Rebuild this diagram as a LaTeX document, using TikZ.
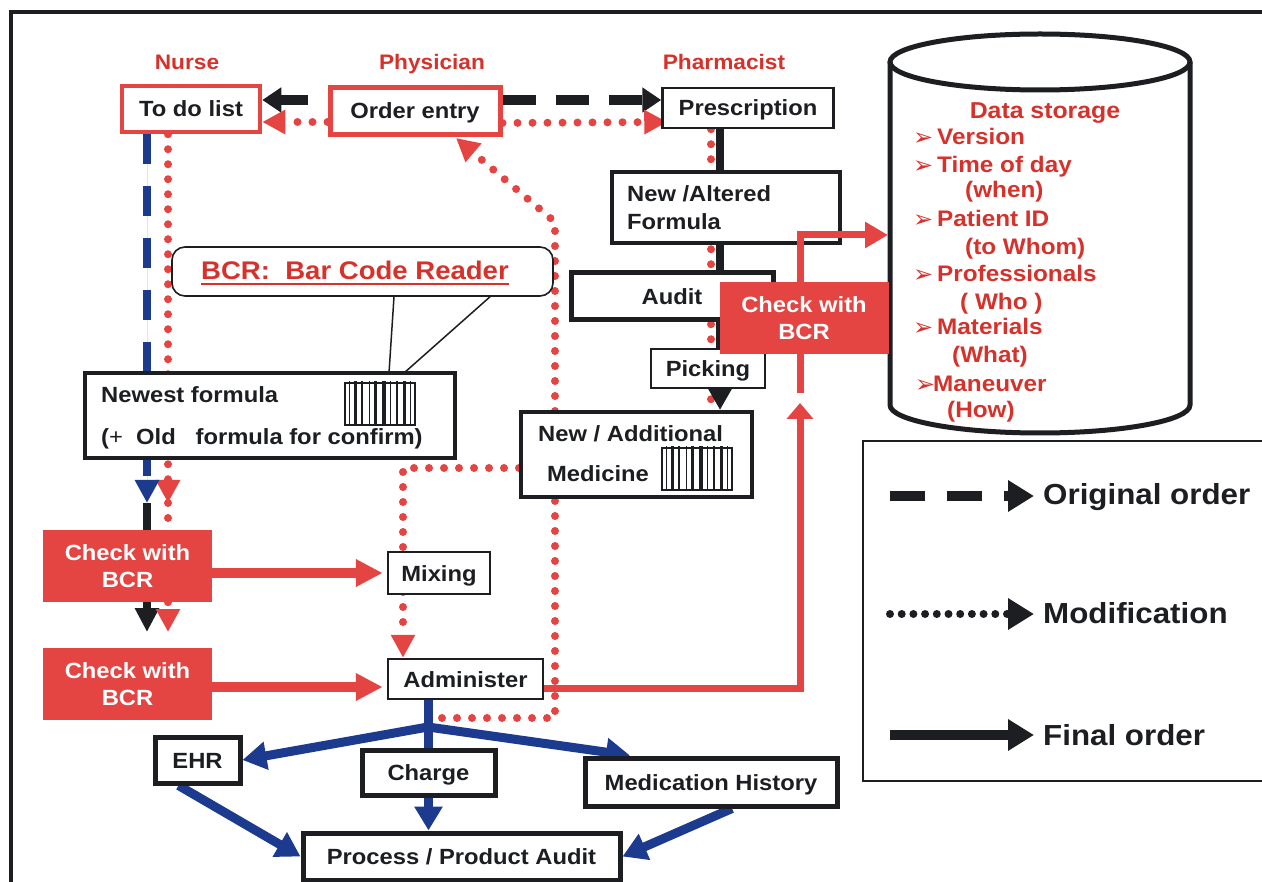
\documentclass[tikz,border=0pt]{standalone}
\usepackage{fontspec}
\setmainfont{Liberation Sans}[FakeStretch=1.08]
\newfontfamily\dingfont{DejaVu Sans}
\usetikzlibrary{arrows.meta}

\definecolor{cred}{RGB}{228,68,66}
\definecolor{tred}{RGB}{214,50,44}
\definecolor{cblue}{RGB}{28,58,142}
\definecolor{cblack}{RGB}{28,30,34}

\pgfdeclarelayer{paper}
\pgfdeclarelayer{connectors}
\pgfsetlayers{paper,connectors,main}

\newcommand\dsarrow{\makebox[24pt][l]{\dingfont\fontsize{24}{24}\selectfont\raisebox{-1pt}{➢}}}
\newcommand\dsarrowtight{\makebox[18pt][l]{\dingfont\fontsize{24}{24}\selectfont\raisebox{-1pt}{➢}}}

\tikzset{
  barcode/.pic={
    \draw[cblack, line width=1.5pt, fill=white] (0,0) rectangle (70,42);
    \foreach \bx/\bw in {4/1.2, 9/3, 16/1.5, 24/1.2, 29/3, 37/3.5, 45/1.2, 51/2, 58/3, 65/1.2}
      {\fill[cblack] (\bx,-2) rectangle ++(\bw,45);}
  }
}

\begin{document}
\begin{tikzpicture}[x=1pt,y=-1pt,
  every node/.style={font=\fontsize{22}{26}\selectfont\bfseries, text=cblack, inner sep=0pt},
  box/.style={draw=cblack, fill=white, line width=2.5pt, text height=16pt, text depth=0pt},
  heavybox/.style={box, line width=5pt},
  redframe/.style={draw=cred, fill=white, line width=4.5pt, text height=16pt, text depth=0pt},
  bcrbox/.style={fill=cred, text=white, align=center, minimum width=169pt, minimum height=72pt,
                 font=\fontsize{22}{27}\selectfont\bfseries},
  role/.style={text=tred, font=\fontsize{21}{24}\selectfont\bfseries, anchor=base},
  txt/.style={anchor=base west},
  dsitem/.style={anchor=base west, text=tred, font=\fontsize{22.5}{26}\selectfont\bfseries},
  legtxt/.style={anchor=base west, font=\fontsize{29}{32}\selectfont\bfseries},
  modif/.style={draw=cred, line width=8pt, line cap=round, dash pattern=on 0pt off 15pt},
  modtip/.style={-{Triangle[length=23pt,width=23pt]}},
  original/.style={draw=cblack, line width=10pt, dash pattern=on 33pt off 20pt},
  origtip/.style={-{Triangle[length=19pt,width=24pt]}},
  bluedash/.style={draw=cblue, line width=8pt, dash pattern=on 30pt off 22pt},
  finalflow/.style={draw=cblue, line width=9pt, -{Triangle[length=24pt,width=27pt]}},
  bcrflow/.style={draw=cred, line width=10pt, -{Triangle[length=27pt,width=26pt]}},
  storeflow/.style={draw=cred, line width=7pt},
]
\useasboundingbox (0,0) rectangle (1262,882);
\begin{pgfonlayer}{paper}
  \fill[white] (0,0) rectangle (1262,882);
\end{pgfonlayer}

% outer frame
\draw[cblack, line width=4pt] (11,882) -- (11,12) -- (1275,12);

% role headings
\node[role] (nurse) at (187,70) {Nurse};
\node[role] (physician) at (432,70) {Physician};
\node[role] (pharmacist) at (724,70) {Pharmacist};

% data storage cylinder
\fill[white] (890,62) -- (890,405) arc[start angle=180,end angle=360,x radius=150pt,y radius=28pt] -- (1190,62) -- cycle;
\draw[cblack, line width=5pt] (890,62) -- (890,405) arc[start angle=180,end angle=360,x radius=150pt,y radius=28pt] -- (1190,62);
\draw[cblack, line width=5pt] (1040,62) ellipse [x radius=150pt, y radius=28pt];
\coordinate (dsin) at (888,235);
\node[anchor=base, text=tred, font=\fontsize{23}{26}\selectfont\bfseries] (dstitle) at (1045,119) {Data storage};
\foreach \n/\xx/\yy/\tt in {
   1/913/145/{\dsarrow Version},
   2/913/173/{\dsarrow Time of day},
   3/965/198/{(when)},
   4/913/227/{\dsarrow Patient ID},
   5/965/255/{(to Whom)},
   6/913/282/{\dsarrow Professionals},
   7/960/310/{( Who )},
   8/913/335/{\dsarrow Materials},
   9/952/363/{(What)},
  10/915/392/{\dsarrowtight Maneuver},
  11/947/418/{(How)}}
  \node[dsitem] (ds\n) at (\xx,\yy) {\tt};

% top row
\node[redframe, minimum width=138pt, minimum height=46pt] (todo) at (191,109) {To do list};
\node[redframe, line width=5pt, minimum width=170pt, minimum height=47pt] (order) at (415,111) {Order entry};
\node[box, minimum width=171pt, minimum height=40pt] (presc) at (748,108) {Prescription};

% pharmacy column
\node[box, line width=4pt, minimum width=228pt, minimum height=71pt] (altered) at (726,207.5) {};
\node[txt] (alt1) at (627,202) {New /Altered};
\node[txt] (alt2) at (627,230) {Formula};
\node[heavybox, minimum width=202pt, minimum height=47pt] (audit) at (672,296.5) {Audit};
\node[box, minimum width=114pt, minimum height=39pt] (picking) at (708,368.5) {Picking};
\node[bcrbox] (checkR) at (804,318) {Check with\\BCR};
\node[box, line width=4pt, minimum width=231pt, minimum height=85pt] (newadd) at (636.5,454.5) {};
\node[txt] (na1) at (538,442) {New / Additional};
\node[txt] (na2) at (547,482) {Medicine};
\pic at (662,448) {barcode};

% bar code reader note
\node[draw=cblack, fill=white, line width=1.6pt, rounded corners=13pt,
      minimum width=381pt, minimum height=49pt] (callout) at (362.5,271.5) {};
\node[anchor=base, text=tred, font=\fontsize{25.5}{28}\selectfont\bfseries] (calltext) at (355,280) {BCR:\ \ Bar Code Reader};
\draw[tred, line width=2pt] ([yshift=-4pt]calltext.base west) -- ([yshift=-4pt]calltext.base east);

% nurse column
\node[box, line width=4pt, minimum width=370pt, minimum height=85pt] (newest) at (270,415.5) {};
\node[txt] (nf1) at (101,403) {Newest formula};
\node[txt] (nf2) at (101,445) {({\mdseries +}\ \ Old\ \ \ formula for confirm)};
\pic at (345,383) {barcode};
\draw[cblack, line width=1.5pt] (callout.south -| 394,0) -- (389,373);
\draw[cblack, line width=1.5pt] (callout.south -| 490,0) -- (404,373);

\node[bcrbox] (check1) at (127.5,566) {Check with\\BCR};
\node[bcrbox] (check2) at (127.5,684) {Check with\\BCR};
\node[box, minimum width=102pt, minimum height=42pt] (mixing) at (439,573) {Mixing};
\node[box, minimum width=155pt, minimum height=40pt] (admin) at (465.5,679) {Administer};

% records
\node[heavybox, minimum width=85pt, minimum height=46pt] (ehr) at (197.5,760) {EHR};
\node[heavybox, minimum width=133pt, minimum height=45pt] (charge) at (428.5,772.5) {Charge};
\node[heavybox, minimum width=252pt, minimum height=48pt] (medhist) at (711,782) {Medication History};
\node[heavybox, minimum width=317pt, minimum height=47pt] (process) at (461.5,856.5) {Process / Product Audit};

% legend
\node[draw=cblack, line width=2pt, minimum width=420pt, minimum height=340pt, anchor=north west] (legend) at (862,440) {};
\coordinate (lo1) at (890,496);  \coordinate (lo2) at (1034,496);
\coordinate (lm1) at (890,614);  \coordinate (lm2) at (1034,614);
\coordinate (lf1) at (890,735);  \coordinate (lf2) at (1034,735);
\draw[cblack, line width=10pt, dash pattern=on 35pt off 22pt, -{Triangle[length=26pt,width=30pt]}] (lo1) -- (lo2);
\draw[cblack, line width=8pt, line cap=round, dash pattern=on 0pt off 11.7pt, -{Triangle[length=26pt,width=30pt]}] (lm1) -- (lm2);
\draw[cblack, line width=10pt, -{Triangle[length=26pt,width=30pt]}] (lf1) -- (lf2);
\node[legtxt] (lt1) at (1043,505) {Original order};
\node[legtxt] (lt2) at (1043,623) {Modification};
\node[legtxt] (lt3) at (1043,745) {Final order};

% store the bar code check of the pharmacist
\coordinate (sturn) at (800,235);
\draw[storeflow, -{Triangle[length=23pt,width=25pt]}] (checkR.north -| sturn) -- (sturn) -- (dsin);

\begin{pgfonlayer}{connectors}
  % original order
  \draw[original, origtip] ([yshift=11pt]order.east) -- ([yshift=8pt]presc.west);
  \draw[original, origtip, dash phase=33pt] ([yshift=11pt]order.west) -- ([yshift=9pt]todo.east);
  % modification of the order
  \draw[modif, modtip] ([yshift=-12pt]order.east) -- ([yshift=-14pt,xshift=6pt]presc.west);
  \draw[modif, modtip] ([yshift=-11pt]order.west) -- ([yshift=-13pt]todo.east);
  % pharmacist chain
  \draw[modif] (presc.south -| 711,0) -- (newadd.north -| 711,0);
  \draw[cblack, line width=8pt, -{Triangle[length=21pt,width=22pt]}] (presc.south -| 720,0) -- (newadd.north -| 720,0);
  % nurse chain
  \coordinate (nr) at (168,503);
  \coordinate (nb) at (147,503);
  \draw[modif, modtip] (todo.south -| nr) -- (nr);
  \draw[modif] (nr) -- (check1.north -| nr);
  \draw[bluedash, -{Triangle[length=23pt,width=23pt]}, draw=cblue, fill=cblue] (todo.south -| nb) -- (nb);
  \draw[cblack, line width=8pt] (nb) -- (check1.north -| nb);
  \draw[cblack, line width=8pt, -{Triangle[length=24pt,width=23pt]}] (check1.south -| nb) -- (147,632);
  \draw[modif, modtip] (check1.south -| nr) -- (168,632);
  % bar code checks
  \draw[bcrflow] ([yshift=-7pt]check1.east) -- ([xshift=-4pt,yshift=0pt]mixing.west);
  \draw[bcrflow] ([yshift=-3pt]check2.east) -- ([xshift=-4pt,yshift=-8pt]admin.west);
  % new or additional medicine
  \coordinate (nm) at (403,468);
  \draw[modif, modtip] (newadd.west |- nm) -- (nm) -- (admin.north -| nm);
  % feedback to order entry
  \coordinate (fb0) at (442,718);
  \coordinate (fb1) at (555,718);
  \coordinate (fb2) at (555,222);
  \draw[modif, modtip] (fb0) -- (fb1) -- (fb2) -- (456,138);
  % administer to data storage
  \coordinate (sup) at (800,403);
  \draw[storeflow, -{Triangle[length=16pt,width=26pt]}] ([yshift=-9pt]admin.east) -| (sup);
  \draw[storeflow] ([yshift=10pt]sup) -- (checkR.south -| sup);
  % final order
  \coordinate (fork) at (428,727);
  \draw[draw=cblue, line width=9pt] (admin.south -| charge.north) -- (charge.north);
  \draw[finalflow] (fork) -- (ehr.east);
  \draw[finalflow] (fork) -- ([xshift=-81pt]medhist.north);
  \draw[finalflow] (charge.south) -- (process.north -| charge.south);
  \draw[finalflow] ([xshift=-19pt]ehr.south) -- (process.west);
  \draw[finalflow] ([xshift=21pt]medhist.south) -- (process.east);
\end{pgfonlayer}
\end{tikzpicture}
\end{document}
